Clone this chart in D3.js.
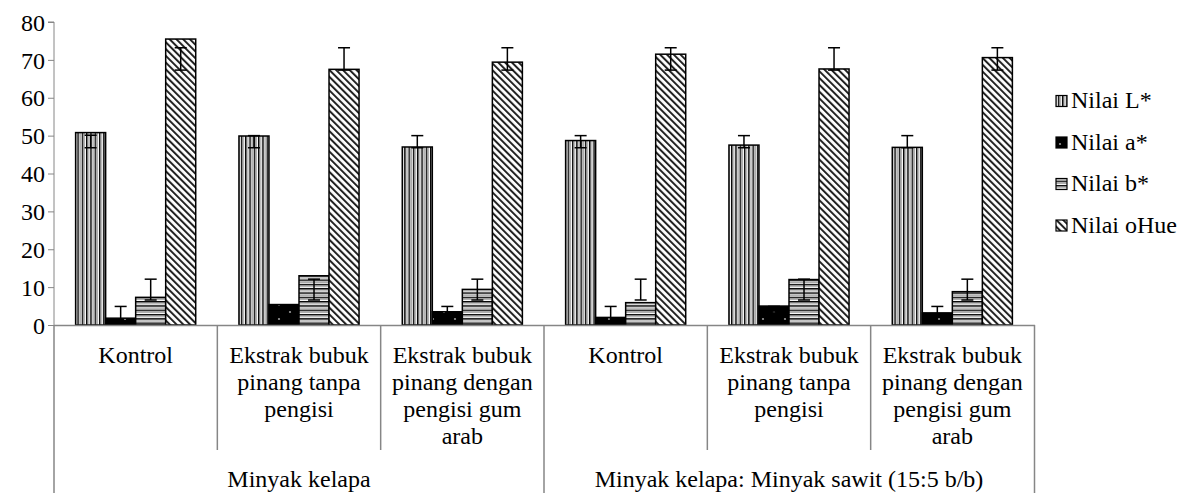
<!DOCTYPE html>
<html><head><meta charset="utf-8">
<script src="https://cdn.jsdelivr.net/npm/d3@7"></script>
<style>
body{margin:0;background:#fff}
svg{display:block}
</style></head>
<body><svg id="c" width="1186" height="493"></svg>
<script>
// ---------- data ----------
const groups = ["Minyak kelapa", "Minyak kelapa: Minyak sawit (15:5 b/b)"];
const categories = ["Kontrol", "Ekstrak bubuk\npinang tanpa\npengisi", "Ekstrak bubuk\npinang dengan\npengisi gum\narab"];
const seriesNames = ["Nilai L*", "Nilai a*", "Nilai b*", "Nilai oHue"];
const nilaiL   = [50.8, 49.9, 47.0, 48.7, 47.5, 46.9];
const nilaiA   = [1.8, 5.4, 3.5, 2.0, 5.0, 3.2];
const nilaiB   = [7.3, 13.0, 9.4, 5.9, 12.0, 8.8];
const nilaiHue = [75.5, 67.5, 69.4, 71.5, 67.6, 70.6];
// error bar ends (upper / lower) per series
const errHiL   = [50.1, 50.0, 50.0, 50.0, 50.0, 50.0];
const errLoL   = [46.8, 46.8, 46.8, 46.8, 46.8, 46.8];
const errHiA   = [4.9, 4.9, 4.9, 4.9, 4.9, 4.9];
const errLoA   = [0.5, 0.5, 0.5, 0.5, 0.5, 0.5];
const errHiB   = [12.1, 12.1, 12.1, 12.1, 12.1, 12.1];
const errLoB   = [6.6, 6.6, 6.6, 6.6, 6.6, 6.6];
const errHiHue = [73.2, 73.2, 73.2, 73.2, 73.2, 73.2];
const errLoHue = [67.3, 67.3, 67.3, 67.3, 67.3, 67.3];
const yTicks = [0, 10, 20, 30, 40, 50, 60, 70, 80];

const seriesVals = [nilaiL, nilaiA, nilaiB, nilaiHue];
const seriesHi = [errHiL, errHiA, errHiB, errHiHue];
const seriesLo = [errLoL, errLoA, errLoB, errLoHue];

// ---------- layout ----------
const svg = d3.select("#c");
const mLeft = 54, mRight = 1034, mTop = 22, mBottom = 325;
const axisCol = "#868686";
const FONT = '"Liberation Serif"';
const FS = "24px";

const leaves = [];
groups.forEach((g, gi) => categories.forEach((c, ci) => leaves.push({g: gi, c: ci, key: gi + "-" + ci})));

const x0 = d3.scaleBand().domain(leaves.map(d => d.key)).range([mLeft, mRight]).padding(0);
const x1 = d3.scaleBand().domain(seriesNames).range([0, x0.bandwidth()]).paddingInner(0).paddingOuter(0.72);
const y = d3.scaleLinear().domain([0, 80]).range([mBottom, mTop]);

// ---------- patterns ----------
const defs = svg.append("defs");
let p = defs.append("pattern").attr("id", "pL").attr("patternUnits", "userSpaceOnUse").attr("width", 4.3).attr("height", 10);
p.append("rect").attr("width", 4.3).attr("height", 10).attr("fill", "#fff");
p.append("rect").attr("x", 0).attr("width", 1.4).attr("height", 10).attr("fill", "#000");
p.append("rect").attr("x", 2.2).attr("width", 1).attr("height", 10).attr("fill", "#8a8a8a");
p = defs.append("pattern").attr("id", "pA").attr("patternUnits", "userSpaceOnUse").attr("width", 22).attr("height", 14);
p.append("rect").attr("width", 22).attr("height", 14).attr("fill", "#000");
p.append("circle").attr("cx", 4).attr("cy", 4).attr("r", 1.1).attr("fill", "#9a9a9a");
p.append("circle").attr("cx", 15).attr("cy", 11).attr("r", 1.1).attr("fill", "#9a9a9a");
p = defs.append("pattern").attr("id", "pB").attr("patternUnits", "userSpaceOnUse").attr("width", 10).attr("height", 4.3);
p.append("rect").attr("width", 10).attr("height", 4.3).attr("fill", "#fff");
p.append("rect").attr("y", 0).attr("height", 1.4).attr("width", 10).attr("fill", "#000");
p.append("rect").attr("y", 2.2).attr("height", 1).attr("width", 10).attr("fill", "#8a8a8a");
p = defs.append("pattern").attr("id", "pH").attr("patternUnits", "userSpaceOnUse").attr("width", 4.8).attr("height", 10)
  .attr("patternTransform", "rotate(-45)");
p.append("rect").attr("width", 4.8).attr("height", 10).attr("fill", "#fff");
p.append("rect").attr("x", 0).attr("width", 2).attr("height", 10).attr("fill", "#222");
const fills = ["url(#pL)", "url(#pA)", "url(#pB)", "url(#pH)"];

// ---------- y axis ----------
const yAxis = d3.axisLeft(y).tickValues(yTicks).tickSize(6).tickPadding(3).tickFormat(d3.format("d"));
const ya = svg.append("g").attr("transform", `translate(${mLeft},0)`).call(yAxis);
ya.select(".domain").attr("stroke", axisCol).attr("d", `M-6,${mTop}H0V${mBottom}`);
ya.selectAll(".tick line").attr("stroke", axisCol);
ya.selectAll(".tick text").style("font-family", FONT).style("font-size", FS).attr("fill", "#000").attr("dy", "0.34em");

// ---------- bars ----------
const gBars = svg.append("g");
leaves.forEach((lf, i) => {
  seriesNames.forEach((s, si) => {
    const v = seriesVals[si][i];
    gBars.append("rect")
      .attr("x", x0(lf.key) + x1(s))
      .attr("y", y(v))
      .attr("width", x1.bandwidth())
      .attr("height", y(0) - y(v))
      .attr("fill", fills[si])
      .attr("stroke", "#000").attr("stroke-width", 1.5);
  });
});
const gErr = svg.append("g").attr("stroke", "#000").attr("stroke-width", 1.5);
leaves.forEach((lf, i) => {
  seriesNames.forEach((s, si) => {
    const cx = x0(lf.key) + x1(s) + x1.bandwidth() / 2;
    const hi = y(seriesHi[si][i]), lo = y(seriesLo[si][i]);
    gErr.append("line").attr("x1", cx).attr("x2", cx).attr("y1", hi).attr("y2", lo);
    gErr.append("line").attr("x1", cx - 6).attr("x2", cx + 6).attr("y1", hi).attr("y2", hi);
    gErr.append("line").attr("x1", cx - 6).attr("x2", cx + 6).attr("y1", lo).attr("y2", lo);
  });
});

// ---------- x axis (multi-level) ----------
const gx = svg.append("g");
gx.append("line").attr("x1", mLeft).attr("x2", mRight + 1).attr("y1", mBottom + 0.5).attr("y2", mBottom + 0.5).attr("stroke", axisCol).attr("stroke-width", 1.5);
leaves.forEach((lf, i) => {
  const xb = x0(lf.key);
  const isGroupEdge = lf.c === 0;
  gx.append("line").attr("x1", xb).attr("x2", xb).attr("y1", mBottom).attr("y2", isGroupEdge ? 493 : 450)
    .attr("stroke", axisCol).attr("stroke-width", 1.5);
  const lines = categories[lf.c].split("\n");
  const cx = xb + x0.bandwidth() / 2;
  const t = gx.append("text").attr("text-anchor", "middle")
    .style("font-family", FONT).style("font-size", FS)
    .attr("x", cx).attr("y", 363);
  lines.forEach((ln, k) => t.append("tspan").attr("x", cx).attr("dy", k === 0 ? 0 : 27).text(ln));
});
gx.append("line").attr("x1", mRight + 0.5).attr("x2", mRight + 0.5).attr("y1", mBottom).attr("y2", 493).attr("stroke", axisCol).attr("stroke-width", 1.5);
groups.forEach((g, gi) => {
  const first = x0(gi + "-0");
  const last = x0(gi + "-" + (categories.length - 1)) + x0.bandwidth();
  gx.append("text").attr("text-anchor", "middle")
    .style("font-family", FONT).style("font-size", FS)
    .attr("x", (first + last) / 2).attr("y", 487).text(g);
});

// ---------- legend ----------
const lg = svg.append("g");
seriesNames.forEach((s, si) => {
  const yy = 100 + si * 41.5;
  lg.append("rect").attr("x", 1056).attr("y", yy - 4.5).attr("width", 11).attr("height", 11)
    .attr("fill", fills[si]).attr("stroke", "#000").attr("stroke-width", 1.2);
  lg.append("text").attr("x", 1071).attr("y", yy + 8)
    .style("font-family", FONT).style("font-size", FS).text(s);
});
</script></body></html>
